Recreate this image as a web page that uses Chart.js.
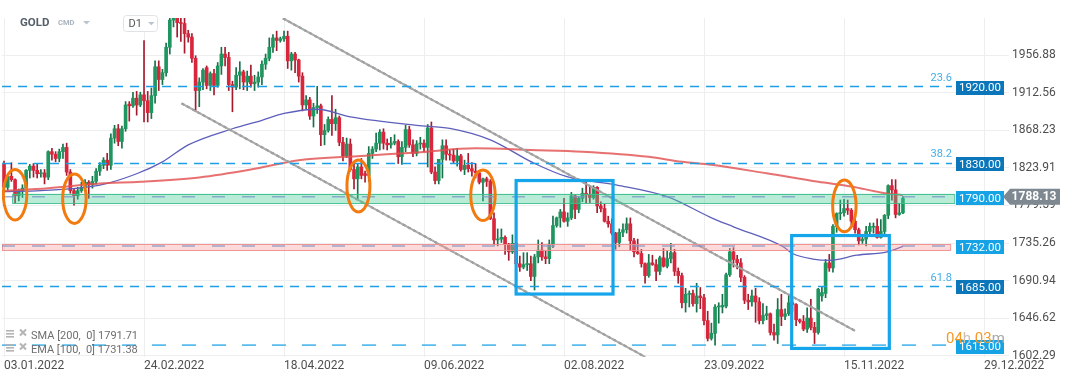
<!DOCTYPE html>
<html><head><meta charset="utf-8">
<script src="https://cdn.jsdelivr.net/npm/chart.js@4.4.1/dist/chart.umd.min.js"></script>
<style>html,body{margin:0;padding:0;background:#fff;overflow:hidden}canvas{display:block}</style>
</head><body>
<canvas id="c" width="1072" height="382"></canvas>
<script>
// ---- DATA (daily candles, index 0 = 03.01.2022) ----
const opens=[1829,1801,1814,1810,1791,1797,1800,1821,1826,1821,1817,1818,1813,1843,1840,1835,1843,1848,1819,1797,1791,
1797,1801,1807,1804,1808,1820,1827,1833,1827,1859,1870,1855,1870,1899,1897,1906,1898,1910,1903,1889,
1909,1943,1928,1936,1966,1998,2051,1995,1994,1982,1978,1953,1915,1925,1942,1921,1935,1921,1944,1958,1954,1922,1919,1933,
1937,1925,1932,1923,1925,1931,1946,1953,1966,1977,1974,1976,1979,1950,1958,1951,1932,1898,1904,1885,1895,
1897,1863,1868,1881,1876,1883,1854,1838,1852,1822,1811,1825,1817,1815,1841,1846,1853,1866,1853,1851,1853,1855,
1837,1848,1869,1851,1841,1852,1853,1848,1871,1819,1809,1834,1850,1840,1839,1832,1838,1822,1827,1823,1820,1818,
1807,1811,1808,1764,1739,1740,1742,1734,1725,1735,1711,1707,1710,1711,1696,1719,1727,1719,1717,1734,1756,
1765,1772,1761,1765,1791,1775,1788,1794,1792,1789,1801,1779,1776,1761,1758,1747,1736,1748,1751,1758,1738,1725,1723,
1711,1697,1712,1710,1702,1718,1708,1717,1724,1702,1697,1665,1675,1676,1664,1673,1671,1644,1623,1629,1660,1660,
1661,1698,1725,1716,1712,1695,1668,1666,1673,1666,1644,1650,1652,1630,1627,1657,1649,1652,1665,1663,1645,1643,
1634,1647,1636,1630,1673,1676,1712,1706,1755,1770,1771,1776,1774,1761,1751,1738,1740,1749,1754,1755,1742,1749,
1768,1803,1798,1769,1771];
const highs=[1832,1815,1830,1811,1799,1804,1822,1828,1829,1829,1822,1822,1844,1847,1843,1846,1852,1853,1822,1799,1801,
1807,1810,1809,1814,1823,1830,1836,1841,1864,1874,1875,1873,1902,1902,1913,1914,1913,1974,1914,1918,
1950,1950,1940,1971,2001,2070,2056,2009,2001,1986,1982,1956,1930,1941,1944,1937,1940,1948,1966,1966,1960,1926,1942,1949,
1939,1938,1945,1933,1937,1950,1958,1977,1981,1985,1978,1985,1985,1960,1960,1952,1936,1909,1907,1900,1920,
1899,1875,1884,1909,1893,1885,1860,1859,1858,1828,1829,1835,1820,1849,1849,1865,1869,1870,1858,1860,1863,1857,
1855,1874,1873,1857,1856,1860,1857,1875,1878,1825,1834,1857,1857,1845,1846,1847,1840,1833,1841,1830,1829,1819,
1812,1813,1810,1771,1752,1752,1744,1735,1745,1737,1720,1724,1724,1720,1722,1739,1736,1726,1739,1767,1766,
1775,1788,1771,1795,1792,1790,1800,1807,1801,1803,1802,1784,1781,1767,1764,1748,1752,1758,1765,1765,1741,1740,1728,
1712,1722,1721,1716,1720,1729,1726,1735,1728,1706,1700,1682,1679,1680,1688,1683,1675,1655,1641,1663,1665,1675,
1700,1729,1730,1721,1717,1697,1675,1680,1682,1671,1664,1661,1653,1640,1670,1675,1658,1675,1669,1664,1646,1650,
1659,1669,1642,1682,1684,1716,1722,1757,1771,1786,1787,1786,1776,1768,1753,1744,1755,1759,1759,1764,1763,1769,
1804,1810,1810,1782,1790];
const lows=[1799,1798,1808,1782,1785,1789,1799,1812,1813,1812,1813,1805,1810,1833,1831,1831,1835,1815,1794,1780,1787,
1795,1799,1788,1800,1805,1815,1823,1821,1822,1853,1850,1847,1867,1879,1895,1886,1896,1878,1878,1882,
1900,1915,1922,1932,1958,1990,1978,1973,1959,1972,1948,1890,1896,1916,1917,1915,1910,1919,1934,1944,1915,1890,1916,1917,
1916,1915,1919,1915,1919,1922,1940,1950,1960,1962,1972,1973,1941,1939,1936,1925,1891,1893,1881,1872,1888,
1850,1851,1866,1862,1868,1850,1832,1836,1820,1799,1787,1811,1807,1808,1835,1843,1845,1846,1845,1847,1851,1829,
1828,1843,1848,1837,1838,1846,1843,1825,1817,1805,1805,1812,1833,1833,1830,1826,1820,1816,1819,1814,1812,1805,
1785,1802,1763,1733,1732,1736,1722,1715,1723,1697,1702,1705,1703,1691,1680,1712,1715,1711,1711,1730,1754,
1754,1760,1755,1763,1764,1771,1784,1782,1783,1787,1771,1772,1760,1754,1745,1728,1731,1743,1747,1727,1719,1722,1707,
1688,1695,1709,1691,1698,1707,1706,1712,1697,1688,1659,1654,1660,1661,1654,1658,1639,1620,1621,1615,1641,1653,
1659,1696,1707,1705,1690,1664,1657,1661,1642,1640,1640,1645,1627,1621,1617,1638,1645,1650,1655,1638,1641,1632,
1630,1633,1617,1628,1667,1671,1702,1701,1748,1763,1767,1769,1754,1747,1733,1735,1732,1746,1747,1741,1741,1746,
1764,1786,1765,1768,1770];
const closes=[1801,1814,1810,1791,1797,1800,1821,1826,1821,1817,1818,1813,1843,1840,1835,1843,1848,1819,1797,1791,1797,
1801,1807,1804,1808,1820,1827,1833,1827,1859,1870,1855,1870,1898,1897,1906,1898,1910,1903,1889,1909,
1943,1928,1936,1966,1998,2051,1995,1994,1982,1978,1953,1915,1925,1939,1921,1935,1921,1944,1958,1954,1922,1919,1933,1937,
1925,1932,1923,1925,1931,1946,1953,1966,1977,1974,1976,1979,1950,1958,1951,1932,1898,1904,1885,1895,1897,
1863,1868,1881,1876,1883,1854,1838,1852,1822,1811,1825,1815,1815,1841,1846,1853,1866,1853,1851,1853,1855,1837,
1848,1869,1851,1841,1852,1853,1848,1871,1819,1809,1834,1850,1840,1839,1832,1838,1822,1827,1823,1820,1818,1807,
1811,1808,1764,1739,1740,1742,1734,1725,1735,1711,1707,1710,1711,1696,1719,1727,1719,1717,1734,1756,1765,
1772,1761,1765,1791,1775,1788,1794,1792,1789,1801,1779,1776,1761,1758,1747,1736,1748,1751,1758,1738,1725,1723,1711,
1697,1712,1710,1702,1718,1708,1717,1724,1702,1697,1665,1675,1676,1664,1673,1671,1644,1623,1629,1660,1660,1662,
1698,1725,1716,1712,1695,1668,1666,1673,1666,1644,1650,1652,1630,1627,1657,1649,1652,1665,1663,1645,1643,1634,
1647,1636,1630,1681,1677,1712,1706,1755,1770,1771,1776,1774,1761,1751,1738,1740,1749,1755,1755,1742,1749,1768,
1803,1798,1769,1771,1788.13];

const tickIdx=[0,38,76,114,152,190,228,266];
const tickLabels=['03.01.2022','24.02.2022','18.04.2022','09.06.2022','02.08.2022','23.09.2022','15.11.2022','29.12.2022'];
const yTicks=[1602.29,1646.62,1690.94,1735.26,1779.59,1823.91,1868.23,1912.56,1956.88];

const smaIdx=[0,12,26,37,53,67,80,97,112,128,143,157,175,184,192,207,221,230,238,244];
const smaVal=[1797,1800,1805.5,1807.5,1812.7,1822,1833,1838,1842,1847,1845,1843,1837,1831,1827.5,1817.5,1807.5,1802,1795,1791.71];
const emaIdx=[0,10,26,36,43,50,62,70,76,85,94,112,121,132,143.6,152.8,166.4,180,191.6,198,211.5,214,219.6,224,231.5,239.7,244];
const emaVal=[1796,1797,1803.6,1817,1831,1851,1870,1880,1888,1893,1884,1874,1870.5,1857,1830,1813.5,1803.7,1790,1766,1754.5,1731,1723,1716.5,1715,1721,1725,1731.38];

const chanUpper=[{x:75.7,y:2000.1},{x:231,y:1631.9}];
const chanLower=[{x:48.2,y:1899.9},{x:174,y:1601.3}];

const fibLevels=[1920,1830,1685];
const fibTags=['23.6','38.2','61.8'];
const supportLevel=1615;
const zoneGreen=[1782.5,1793.5,1790];
const zonePink=[1727,1734,1732];
const boxLabels=[1920,1830,1790,1732,1685,1615];
const rects=[[139,165.3,1809,1675.3],[213.8,240.3,1744.2,1611.2]];
const ellipses=[[3.0,1792.3,3.18,29.8],[19.1,1787.6,3.18,29.1],[96.2,1802.6,3.12,30.6],[130,1791.6,3.31,29.8],[228.1,1779.2,3.18,30.4]];
const lastPrice=1788.13;
const legendRows=['SMA [200,  0] 1791.71','EMA [100,  0] 1731.38'];

// ---- CHART ----
Chart.defaults.font.family='Roboto, "DejaVu Sans", sans-serif';
const GREEN='#1f965f', GREEN_D='#16704a', RED='#d9263c', RED_D='#a51b2e';
const isUp=i=>closes[i]>=opens[i];
const wickData=opens.map((o,i)=>({x:i,y:[lows[i],highs[i]]}));
const bodyData=opens.map((o,i)=>({x:i,y:[o,closes[i]]}));
const sma=smaIdx.map((x,i)=>({x,y:smaVal[i]}));
const ema=emaIdx.map((x,i)=>({x,y:emaVal[i]}));

const overlay={
  id:'overlay',
  afterDatasetsDraw(chart){
    const ctx=chart.ctx, a=chart.chartArea;
    const X=v=>chart.scales.x.getPixelForValue(v), Y=v=>chart.scales.y.getPixelForValue(v);
    ctx.save();
    ctx.beginPath();ctx.rect(a.left,a.top,a.right-a.left,a.bottom-a.top);ctx.clip();
    const zone=(z,x0,x1,fill,stroke)=>{
      const y0=Y(z[1]),y1=Y(z[0]);
      ctx.fillStyle=fill;ctx.fillRect(X(x0),y0,X(x1)-X(x0),y1-y0);
      ctx.strokeStyle=stroke;ctx.lineWidth=1;ctx.setLineDash([]);
      ctx.strokeRect(X(x0)+0.5,Math.round(y0)+0.5,X(x1)-X(x0),Math.round(y1-y0));
      ctx.strokeStyle='rgba(120,150,200,0.75)';ctx.lineWidth=1.5;ctx.setLineDash([13,17]);
      ctx.beginPath();ctx.moveTo(X(-0.55),Y(z[2]));ctx.lineTo(X(257.3),Y(z[2]));ctx.stroke();
    };
    zone(zoneGreen,2.2,257.9,'rgba(70,205,150,0.38)','rgba(60,190,140,0.9)');
    zone(zonePink,-0.55,256.8,'rgba(250,150,150,0.35)','rgba(240,140,140,0.9)');
    ctx.strokeStyle='#1c9fe4';ctx.lineWidth=1.4;ctx.setLineDash([9,7]);
    fibLevels.forEach(l=>{const y=Math.round(Y(l))+0.5;ctx.beginPath();ctx.moveTo(X(-0.55),y);ctx.lineTo(X(257.3),y);ctx.stroke();});
    ctx.strokeStyle='rgba(60,175,235,0.85)';ctx.lineWidth=1.8;ctx.setLineDash([14,16]);
    {const y=Y(supportLevel);ctx.beginPath();ctx.moveTo(X(-0.55),y);ctx.lineTo(X(256.2),y);ctx.stroke();}
    ctx.setLineDash([]);
    ctx.strokeStyle='#15a5ea';ctx.lineWidth=3.2;
    rects.forEach(r=>{ctx.strokeRect(X(r[0]),Y(r[2]),X(r[1])-X(r[0]),Y(r[3])-Y(r[2]));});
    ctx.strokeStyle='#f27a0f';ctx.lineWidth=3;
    ellipses.forEach(e=>{
      const cx=X(e[0]),cy=Y(e[1]),rx=X(e[0]+e[2])-cx,ry=Y(e[1]-e[3])-cy;
      ctx.beginPath();ctx.ellipse(cx,cy,rx,ry,0,0,Math.PI*2);ctx.stroke();
    });
    ctx.restore();
    ctx.save();
    ctx.font='11px Roboto';ctx.fillStyle='#42afe9';ctx.textAlign='right';ctx.textBaseline='middle';
    fibLevels.forEach((l,i)=>ctx.fillText(fibTags[i],X(257.3),Y(l)-8));
    const dark=[1920,1830,1685];
    ctx.font='11.5px Roboto';ctx.textAlign='center';
    boxLabels.forEach(l=>{
      const y=Y(l)+1.5, x1=a.right-1, x0=x1-48;
      ctx.fillStyle=dark.includes(l)?'#0b77ba':'#16a3e6';
      ctx.fillRect(x0,Math.round(y-7),48,14);
      ctx.fillStyle='#ffffff';ctx.fillText(l.toFixed(2),x0+24,y+0.5);
    });
    ctx.restore();
  },
  afterDraw(chart){
    const ctx=chart.ctx,a=chart.chartArea;
    const Y=v=>chart.scales.y.getPixelForValue(v);
    ctx.save();
    const y=Y(lastPrice)-1.5;
    ctx.fillStyle='#7e8891';
    ctx.beginPath();ctx.moveTo(a.right-2,y);ctx.lineTo(a.right+5,y-8);ctx.lineTo(1060,y-8);ctx.lineTo(1060,y+8);ctx.lineTo(a.right+5,y+8);ctx.closePath();ctx.fill();
    ctx.fillStyle='#fff';ctx.font='bold 12px Roboto';ctx.textAlign='center';ctx.textBaseline='middle';
    ctx.fillText(lastPrice.toFixed(2),1034,y+0.5);
    ctx.textAlign='left';
    ctx.font='15px Roboto';ctx.textBaseline='alphabetic';
    let x=946;const by=343;
    [['04','#f39a24'],['h','#c9bfb3'],[' 03','#f39a24'],['m','#a8a8a8']].forEach(p=>{ctx.fillStyle=p[1];ctx.fillText(p[0],x,by);x+=ctx.measureText(p[0]).width;});
    ctx.font='11px Roboto';ctx.textBaseline='middle';
    legendRows.forEach((t,i)=>{
      const yy=335.5+i*14;
      ctx.fillStyle='#b4b4b4';
      ctx.fillRect(6,yy-5.5,8,1.6);ctx.fillRect(6,yy-2.5,8,1.6);ctx.fillRect(6,yy+0.5,8,1.6);
      ctx.strokeStyle='#b4b4b4';ctx.lineWidth=2;
      ctx.beginPath();ctx.moveTo(20,yy-6);ctx.lineTo(26,yy);ctx.moveTo(26,yy-6);ctx.lineTo(20,yy);ctx.stroke();
      ctx.fillStyle='#6e6e6e';ctx.fillText(t,31,yy+1);
    });
    ctx.textBaseline='middle';
    ctx.fillStyle='#56606b';ctx.font='bold 11.5px Roboto';ctx.fillText('GOLD',20,23.5);
    ctx.fillStyle='#a9b3bd';ctx.font='bold 7.5px Roboto';ctx.fillText('CMD',58,23.5);
    ctx.fillStyle='#bcc3ca';
    ctx.beginPath();ctx.moveTo(83,21);ctx.lineTo(90,21);ctx.lineTo(86.5,24.5);ctx.closePath();ctx.fill();
    ctx.fillStyle='#fff';ctx.strokeStyle='#e0e3e6';ctx.lineWidth=1;
    ctx.beginPath();ctx.roundRect(123.5,15.5,34,16,3);ctx.fill();ctx.stroke();
    ctx.fillStyle='#555';ctx.font='11px Roboto';ctx.fillText('D1',128.5,24);
    ctx.fillStyle='#bcc3ca';
    ctx.beginPath();ctx.moveTo(148,22);ctx.lineTo(154.5,22);ctx.lineTo(151.25,25.3);ctx.closePath();ctx.fill();
    ctx.restore();
  }
};

new Chart(document.getElementById('c'),{
  type:'bar',
  data:{datasets:[
    {type:'line',data:sma,borderColor:'rgba(226,80,80,0.82)',borderWidth:2,pointRadius:0,cubicInterpolationMode:'monotone',order:1},
    {type:'line',data:ema,borderColor:'#5d5fbb',borderWidth:1.3,pointRadius:0,cubicInterpolationMode:'monotone',order:1},
    {type:'line',data:chanUpper,borderColor:'rgba(165,165,165,0.95)',borderWidth:2,pointRadius:0,order:0},
    {type:'line',data:chanUpper,borderColor:'rgba(85,85,85,0.85)',borderWidth:2,borderDash:[3,3],pointRadius:0,order:0},
    {type:'line',data:chanLower,borderColor:'rgba(165,165,165,0.95)',borderWidth:2,pointRadius:0,order:0},
    {type:'line',data:chanLower,borderColor:'rgba(85,85,85,0.85)',borderWidth:2,borderDash:[3,3],pointRadius:0,order:0},
    {data:bodyData,barThickness:3,grouped:false,minBarLength:1,borderWidth:0,borderSkipped:false,
     backgroundColor:c=>isUp(c.dataIndex)?GREEN:RED,order:2},
    {data:wickData,barThickness:1,grouped:false,borderWidth:0,
     backgroundColor:c=>isUp(c.dataIndex)?GREEN_D:RED_D,order:3}
  ]},
  options:{
    responsive:false,animation:false,devicePixelRatio:1,
    layout:{padding:{left:2,top:18,right:0,bottom:0}},
    plugins:{legend:{display:false},tooltip:{enabled:false}},
    scales:{
      x:{type:'linear',min:-0.55,max:271.7,offset:false,
        grid:{color:'#eeeeee',offset:false,tickLength:0},border:{display:false},
        afterBuildTicks:s=>{s.ticks=tickIdx.map(v=>({value:v}));},
        afterFit:s=>{s.height=25;},
        ticks:{autoSkip:false,maxRotation:0,align:'start',padding:2,color:'#4f4f4f',font:{size:12},
          callback:v=>tickLabels[tickIdx.indexOf(v)]}},
      y:{type:'linear',position:'right',min:1601.11,max:2000.47,
        grid:{color:'#eeeeee',tickLength:4},border:{display:false},
        afterBuildTicks:s=>{s.ticks=yTicks.map(v=>({value:v}));},
        afterFit:s=>{s.width=67;},
        ticks:{padding:3,color:'#4f4f4f',font:{size:12},callback:v=>v.toFixed(2)}}
    }
  },
  plugins:[overlay]
});
</script>
</body></html>
